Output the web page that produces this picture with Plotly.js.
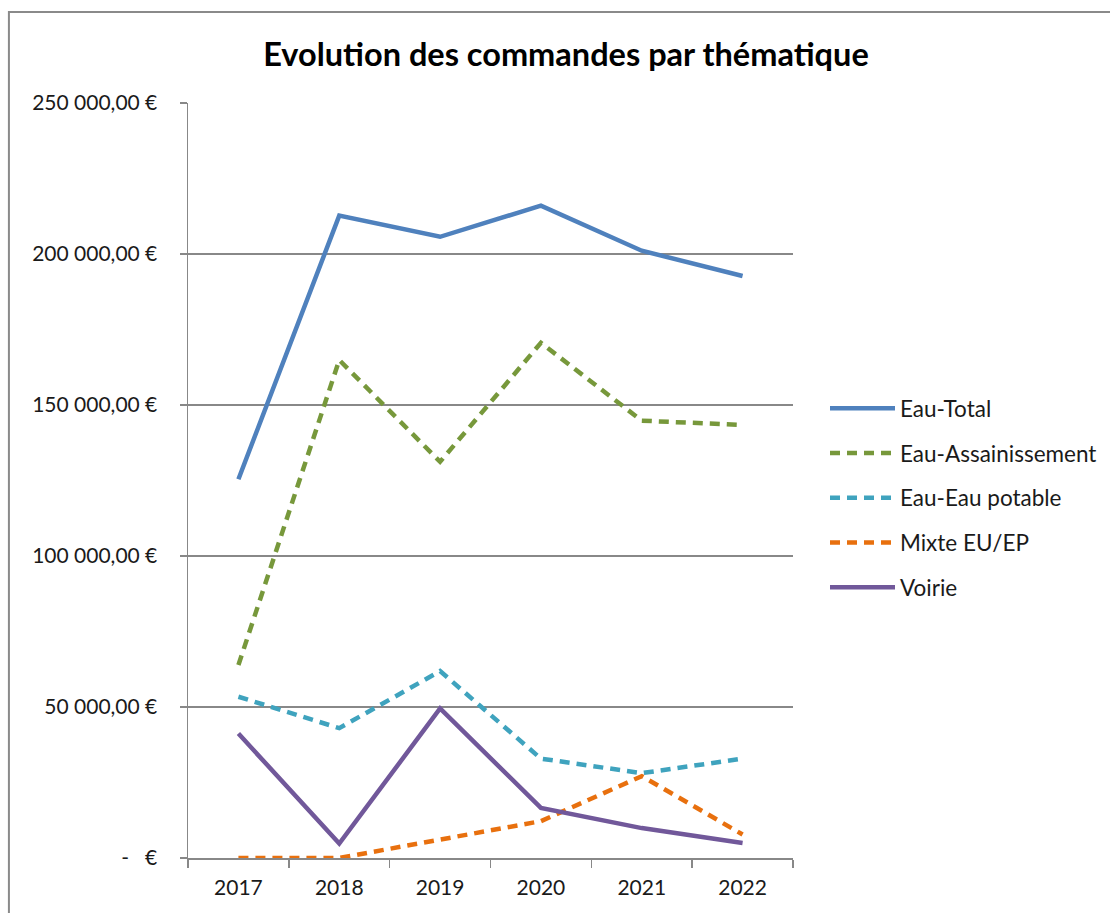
<!DOCTYPE html>
<html>
<head>
<meta charset="utf-8">
<script src="https://cdn.plot.ly/plotly-3.0.1.min.js"></script>
<style>html,body{margin:0;padding:0;background:#fff;}#chart{width:1110px;height:913px;}</style>
</head>
<body>
<div id="chart"></div>
<script>
const years = ["2017", "2018", "2019", "2020", "2021", "2022"];
const eauTotal = [125400, 212700, 205700, 216000, 201100, 192700];
const eauAssainissement = [63900, 164900, 131200, 170600, 144800, 143400];
const eauPotable = [53400, 43000, 61900, 32900, 28100, 32900];
const mixteEuEp = [0, 0, 6100, 12200, 27100, 7800];
const voirie = [41200, 4800, 49500, 16600, 9900, 5000];
const yTickVals = [0, 50000, 100000, 150000, 200000, 250000];
const yTickText = ["-   €", "50 000,00 €", "100 000,00 €", "150 000,00 €", "200 000,00 €", "250 000,00 €"];
const seriesNames = ["Eau-Total", "Eau-Assainissement", "Eau-Eau potable", "Mixte EU/EP", "Voirie"];

const FONT = "Lato, 'Open Sans', sans-serif";
const dashed = "10px,7px";
function tr(name, y, color, dash, idx) {
  return {
    type: "scatter", mode: "lines", name: name, x: years, y: y,
    line: {color: color, width: 4.5, dash: dash},
    legendgroup: "g" + idx, hoverinfo: "skip"
  };
}
const data = [
  tr(seriesNames[0], eauTotal, "#4F81BD", "solid", 0),
  tr(seriesNames[1], eauAssainissement, "#77983B", dashed, 1),
  tr(seriesNames[2], eauPotable, "#3FA3BE", dashed, 2),
  tr(seriesNames[3], mixteEuEp, "#E8700E", dashed, 3),
  tr(seriesNames[4], voirie, "#71589A", "solid", 4)
];
const layout = {
  width: 1110, height: 913,
  margin: {l: 188, r: 317, t: 103, b: 55},
  paper_bgcolor: "#ffffff", plot_bgcolor: "#ffffff",
  font: {family: FONT, size: 21, color: "#1a1a1a"},
  showlegend: true,
  title: {
    text: "Evolution des commandes par thématique",
    font: {family: FONT, size: 32.5, weight: "bold", color: "#000"},
    xref: "container", yref: "container", x: 566/1110, xanchor: "center",
    y: 1 - 55/913, yanchor: "middle"
  },
  xaxis: {
    type: "category", range: [-0.5, 5.5], tickson: "boundaries",
    ticks: "outside", ticklen: 8, tickcolor: "#888", tickwidth: 1.5,
    showline: true, linecolor: "#888", linewidth: 1.5,
    showgrid: false, zeroline: false, fixedrange: true,
    tickfont: {family: FONT, size: 21, color: "#1a1a1a"},
    ticklabelstandoff: 10
  },
  yaxis: {
    range: [0, 250000], tickvals: yTickVals, ticktext: yTickText,
    ticks: "outside", ticklen: 7, tickcolor: "#888", tickwidth: 1.5,
    showline: true, linecolor: "#888", linewidth: 1.5,
    showgrid: true, gridcolor: "#888", gridwidth: 1.5,
    zeroline: false, fixedrange: true,
    tickfont: {family: FONT, size: 21, color: "#1a1a1a"},
    ticklabelstandoff: 18
  },
  legend: {
    xref: "container", yref: "container",
    x: 825/1110, xanchor: "left", y: 1 - 387/913, yanchor: "top",
    font: {family: FONT, size: 22.5, color: "#1a1a1a"},
    tracegroupgap: 12.5, itemwidth: 65, bgcolor: "rgba(0,0,0,0)",
    traceorder: "grouped"
  },
  shapes: [{
    type: "path", xref: "paper", yref: "paper",
    path: "M -0.296 -0.1 L -0.296 1.1205 L 1.6 1.1205",
    line: {color: "#8a8a8a", width: 2}
  }]
};
Plotly.newPlot("chart", data, layout, {staticPlot: true});
</script>
</body>
</html>
